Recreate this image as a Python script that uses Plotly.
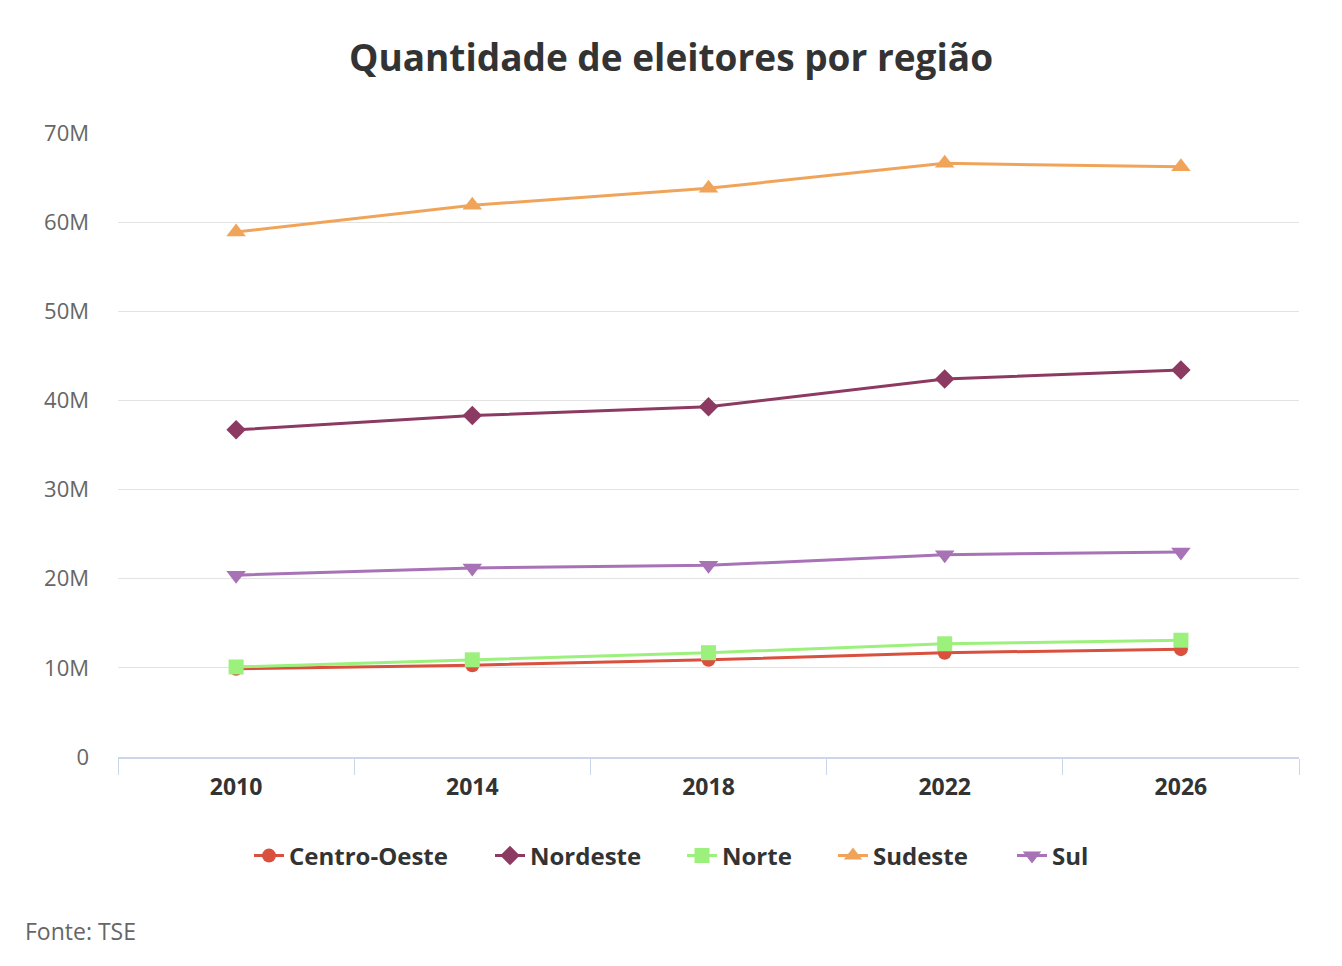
import plotly.graph_objects as go

anos = ["2010", "2014", "2018", "2022", "2026"]
centro_oeste = [9.9e6, 10.3e6, 10.9e6, 11.7e6, 12.1e6]
nordeste = [36.7e6, 38.3e6, 39.3e6, 42.4e6, 43.4e6]
norte = [10.1e6, 10.9e6, 11.7e6, 12.7e6, 13.1e6]
sudeste = [58.9e6, 61.9e6, 63.8e6, 66.6e6, 66.2e6]
sul = [20.4e6, 21.2e6, 21.5e6, 22.7e6, 23.0e6]

y_tickvals = [0, 10e6, 20e6, 30e6, 40e6, 50e6, 60e6, 70e6]
y_ticktext = ["0", "10M", "20M", "30M", "40M", "50M", "60M", "70M"]

series = [
    ("Centro-Oeste", centro_oeste, "#d9503f", "circle", 14),
    ("Nordeste", nordeste, "#8c3a62", "diamond", 15),
    ("Norte", norte, "#9cf07c", "square", 15),
    ("Sudeste", sudeste, "#f0a45a", "triangle-up", 17),
    ("Sul", sul, "#a872b6", "triangle-down", 17),
]

# pixel x of each legend entry's symbol start
legend_px = [249, 490, 682, 833, 1012]
PLOT_L, PLOT_W, PLOT_B, PLOT_H = 118, 1181, 757, 624

fig = go.Figure()
legend_layouts = {}
for i, (name, vals, color, sym, msize) in enumerate(series):
    lname = "legend" if i == 0 else f"legend{i+1}"
    fig.add_trace(go.Scatter(
        x=anos, y=vals, name=name, mode="lines+markers",
        line=dict(color=color, width=3),
        marker=dict(symbol=sym, size=msize, color=color),
        legend=lname,
    ))
    legend_layouts[lname] = dict(
        orientation="h", x=(legend_px[i] - PLOT_L) / PLOT_W, xanchor="left",
        y=(PLOT_B - 856) / PLOT_H, yanchor="middle",
        font=dict(size=24, color="#333333", family="Open Sans", weight="bold"),
        itemwidth=30, bgcolor="rgba(0,0,0,0)",
    )

fig.update_layout(
    width=1342, height=966,
    paper_bgcolor="white", plot_bgcolor="white",
    margin=dict(l=118, r=43, t=133, b=209),
    font=dict(family="Open Sans", color="#333333"),
    title=dict(
        text="<b>Quantidade de eleitores por região</b>",
        x=0.5, xanchor="center", y=0.94, yanchor="middle",
        font=dict(size=37, color="#333333", family="Open Sans"),
    ),
    showlegend=True,
    xaxis=dict(
        type="category", range=[-0.5, 4.5],
        showgrid=False, showline=True, linecolor="#ccd6eb", linewidth=2,
        ticks="outside", tickson="boundaries", ticklen=16, tickcolor="#ccd6eb", tickwidth=1,
        tickfont=dict(size=23, color="#333333", family="Open Sans", weight="bold"),
        ticklabelstandoff=8,
        zeroline=False,
    ),
    yaxis=dict(
        range=[0, 70e6], tickvals=y_tickvals, ticktext=y_ticktext,
        showgrid=True, gridcolor="#e3e3e3", gridwidth=1,
        zeroline=False, showline=False, ticks="",
        tickfont=dict(size=22, color="#666666", family="Open Sans"),
        ticklabelstandoff=28,
    ),
    annotations=[dict(
        text="Fonte: TSE", xref="paper", yref="paper",
        x=(23 - PLOT_L) / PLOT_W, y=(PLOT_B - 931) / PLOT_H, xanchor="left", yanchor="middle",
        showarrow=False, font=dict(size=23, color="#666666", family="Open Sans"),
    )],
    **legend_layouts,
)

fig.write_html("out.html")
